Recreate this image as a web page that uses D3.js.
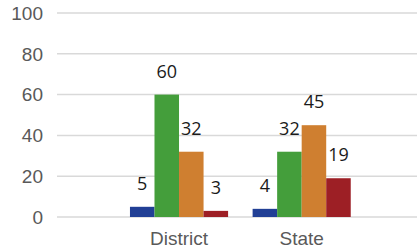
<!DOCTYPE html>
<meta charset="utf-8">
<script src="https://d3js.org/d3.v7.min.js"></script>
<style>
  body { margin: 0; background: #fff; }
  text { font-family: "Liberation Sans", Arial, sans-serif; }
  .val { font-family: "Open Sans", "Noto Sans", sans-serif; }
</style>
<body>
<div id="chart"></div>
<script>
// data
var categories = ["District", "State"];
var series = ["s1", "s2", "s3", "s4"];
var seriesColors = ["#213f95", "#449e3b", "#cf7f30", "#9d1f25"];
var districtValues = [5, 60, 32, 3];
var stateValues = [4, 32, 45, 19];
var yTicks = [0, 20, 40, 60, 80, 100];

var rows = [
  { cat: "District", values: districtValues },
  { cat: "State", values: stateValues }
];

var W = 417, H = 251;
var plotLeft = 57, plotRight = 417;

var svg = d3.select("#chart").append("svg")
  .attr("width", W)
  .attr("height", H);

var y = d3.scaleLinear()
  .domain([0, 100])
  .range([217, 13]);

// category bands
var x0 = d3.scaleBand()
  .domain(categories)
  .range([117.7, 363])
  .paddingInner(0)
  .paddingOuter(0);

// bars inside a group, no gap between them
var x1 = d3.scaleBand()
  .domain(series)
  .range([0, x0.bandwidth()])
  .paddingOuter(0.5)
  .paddingInner(0);

var color = d3.scaleOrdinal().domain(series).range(seriesColors);

// gridlines
svg.append("g").selectAll("line")
  .data(yTicks)
  .enter().append("line")
    .attr("x1", plotLeft)
    .attr("x2", plotRight)
    .attr("y1", function(d) { return y(d); })
    .attr("y2", function(d) { return y(d); })
    .attr("stroke", "#d9d9d9")
    .attr("stroke-width", 1.5);

// y tick labels
svg.append("g").selectAll("text")
  .data(yTicks)
  .enter().append("text")
    .attr("x", 43)
    .attr("y", function(d) { return y(d); })
    .attr("dy", "0.36em")
    .attr("text-anchor", "end")
    .attr("fill", "#595959")
    .style("font-size", "19px")
    .text(function(d) { return d; });

// bars
var groups = svg.append("g").selectAll("g")
  .data(rows)
  .enter().append("g")
    .attr("transform", function(d) { return "translate(" + x0(d.cat) + ",0)"; });

groups.selectAll("rect")
  .data(function(d) { return d.values.map(function(v, i) { return { key: series[i], value: v }; }); })
  .enter().append("rect")
    .attr("x", function(d) { return x1(d.key); })
    .attr("width", x1.bandwidth())
    .attr("y", function(d) { return y(d.value); })
    .attr("height", function(d) { return y(0) - y(d.value); })
    .attr("fill", function(d) { return color(d.key); });

groups.selectAll("text")
  .data(function(d) { return d.values.map(function(v, i) { return { key: series[i], value: v }; }); })
  .enter().append("text")
    .attr("class", "val")
    .attr("x", function(d) { return x1(d.key) + x1.bandwidth() / 2; })
    .attr("y", function(d) { return y(d.value) - 17; })
    .attr("text-anchor", "middle")
    .attr("fill", "#1a1a1a")
    .style("font-size", "18px")
    .text(function(d) { return d.value; });

// category labels
svg.append("g").selectAll("text")
  .data(categories)
  .enter().append("text")
    .attr("x", function(d) { return x0(d) + x0.bandwidth() / 2; })
    .attr("y", 245)
    .attr("text-anchor", "middle")
    .attr("fill", "#595959")
    .style("font-size", "19px")
    .text(function(d) { return d; });
</script>
</body>
